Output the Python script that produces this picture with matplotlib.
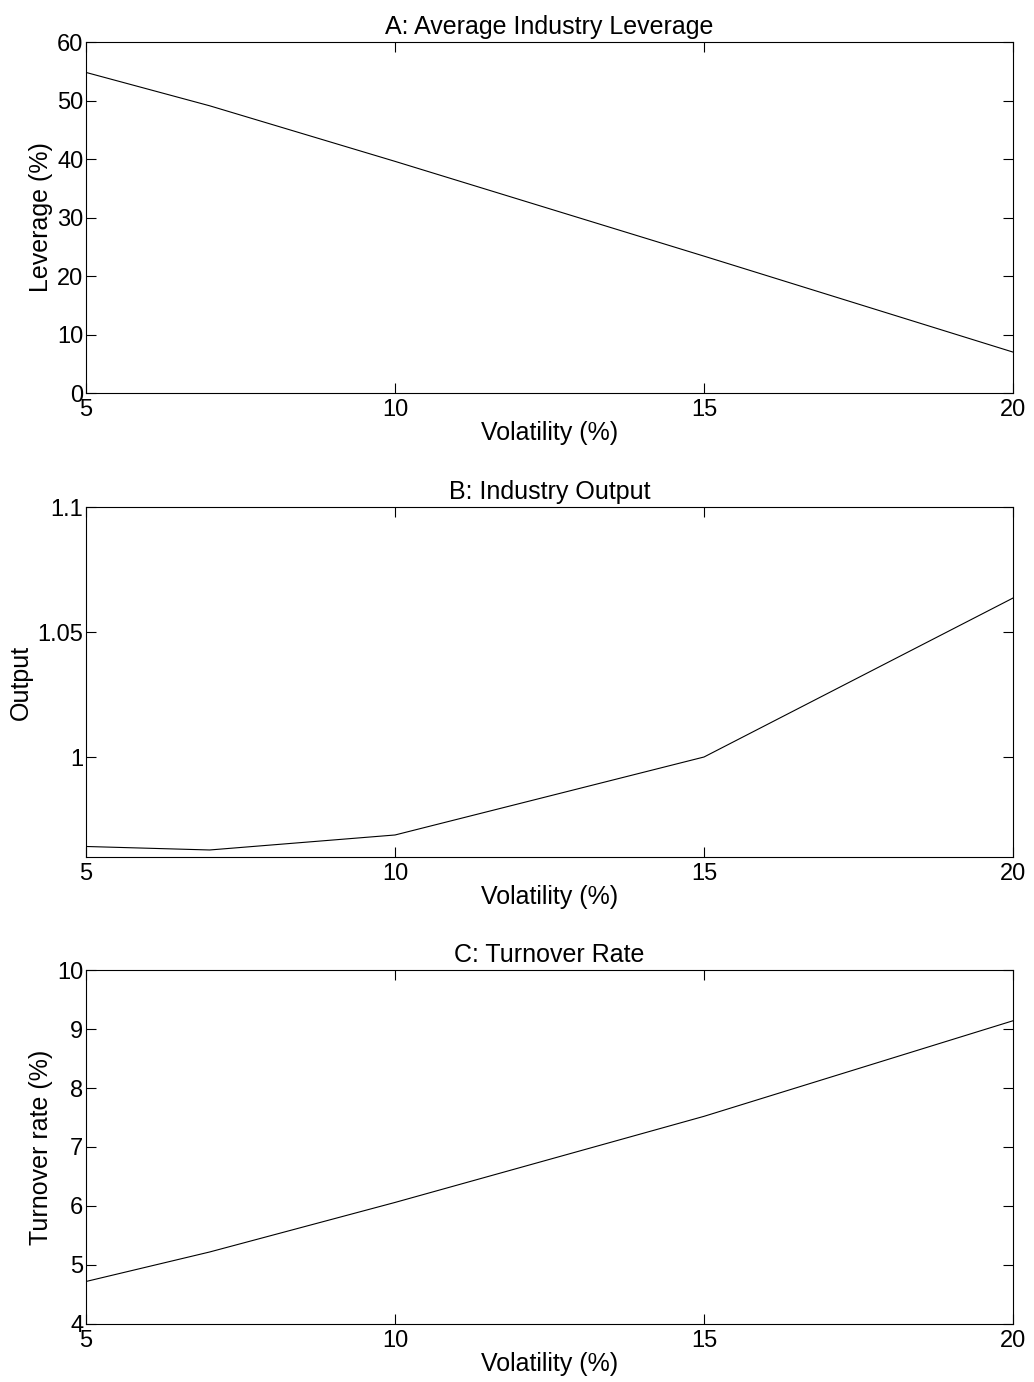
import matplotlib.pyplot as plt
from matplotlib.ticker import FuncFormatter

plt.rcParams["font.family"] = ["Liberation Sans", "DejaVu Sans"]

# volatility grid shared by all three panels
volatility = [5, 7, 10, 15, 20]

leverage = [54.8, 49.1, 39.6, 23.4, 7.0]
output = [0.9642, 0.9628, 0.9688, 1.0, 1.0636]
turnover = [4.72, 5.22, 6.06, 7.52, 9.14]

panels = [
    ("A: Average Industry Leverage", "Leverage (%)", leverage, (0, 60), [0, 10, 20, 30, 40, 50, 60]),
    ("B: Industry Output", "Output", output, (0.96, 1.1), [1.0, 1.05, 1.1]),
    ("C: Turnover Rate", "Turnover rate (%)", turnover, (4, 10), [4, 5, 6, 7, 8, 9, 10]),
]

# axes boxes in figure fractions (left, bottom, width, height)
boxes = [
    (0.0832, 0.7156, 0.8965, 0.2540),
    (0.0832, 0.3799, 0.8965, 0.2532),
    (0.0832, 0.0420, 0.8965, 0.2561),
]


def _fmt(v, _pos):
    return f"{v:g}"


fig = plt.figure(figsize=(10.34, 13.82), dpi=100)
for (title, ylabel, values, ylim, yticks), box in zip(panels, boxes):
    ax = fig.add_axes(box)
    ax.plot(volatility, values, color="black", linewidth=0.8)
    ax.set_xlim(5, 20)
    ax.set_ylim(*ylim)
    ax.set_xticks([5, 10, 15, 20])
    ax.set_yticks(yticks)
    ax.yaxis.set_major_formatter(FuncFormatter(_fmt))
    ax.tick_params(direction="in", length=7, width=0.8, top=True, right=True,
                   labelsize=17, pad=2)
    ax.tick_params(axis="x", pad=4)
    for spine in ax.spines.values():
        spine.set_linewidth(0.8)
    ax.set_title(title, fontsize=18, pad=6)
    ax.set_xlabel("Volatility (%)", fontsize=18, labelpad=0)
    ax.set_ylabel(ylabel, fontsize=18, labelpad=3)

fig.savefig("out.png", dpi=100)
